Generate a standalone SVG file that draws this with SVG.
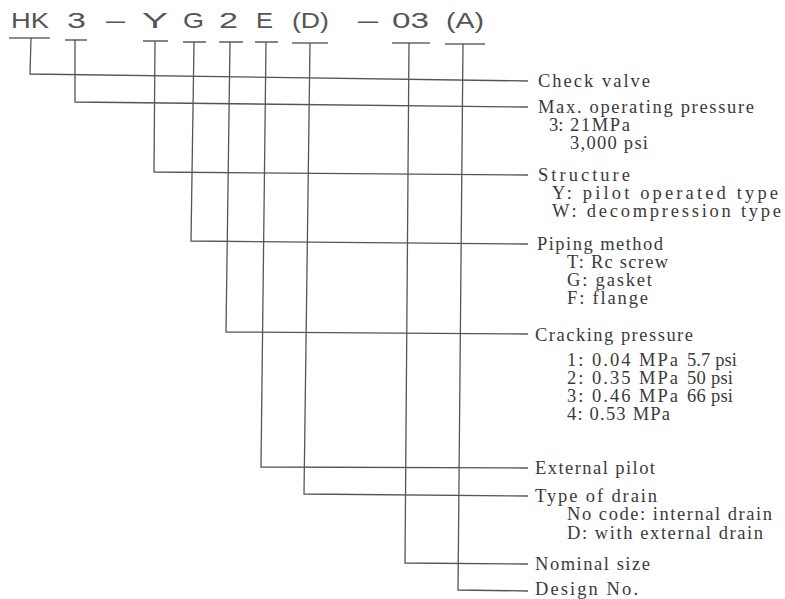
<svg xmlns="http://www.w3.org/2000/svg" width="785" height="599" viewBox="0 0 785 599">
<style>
.code{font-family:"Liberation Sans",Arial,sans-serif;font-size:22px;fill:#555}
.lbl{font-family:"Liberation Serif","Times New Roman",serif;font-size:18.5px;fill:#3a3a3a}
.ln{stroke:#555;stroke-width:1.3;fill:none}
.ul{stroke:#666;stroke-width:1.6;fill:none}
</style>
<rect width="785" height="599" fill="#fff"/>
<g id="code">
<text class="code" x="11" y="28" textLength="38" lengthAdjust="spacingAndGlyphs">HK</text>
<text class="code" x="67" y="28" textLength="19" lengthAdjust="spacingAndGlyphs">3</text>
<text class="code" x="106" y="28" textLength="19" lengthAdjust="spacingAndGlyphs">—</text>
<text class="code" x="142" y="28" textLength="26" lengthAdjust="spacingAndGlyphs">Y</text>
<text class="code" x="183" y="28" textLength="21" lengthAdjust="spacingAndGlyphs">G</text>
<text class="code" x="219" y="28" textLength="19" lengthAdjust="spacingAndGlyphs">2</text>
<text class="code" x="256" y="28" textLength="17" lengthAdjust="spacingAndGlyphs">E</text>
<text class="code" x="292" y="28" textLength="37" lengthAdjust="spacingAndGlyphs">(D)</text>
<text class="code" x="358" y="28" textLength="20" lengthAdjust="spacingAndGlyphs">—</text>
<text class="code" x="392" y="28" textLength="37" lengthAdjust="spacingAndGlyphs">03</text>
<text class="code" x="446" y="28" textLength="38" lengthAdjust="spacingAndGlyphs">(A)</text>
</g>
<g id="underlines">
<line class="ul" x1="9" y1="38" x2="50" y2="38"/>
<line class="ul" x1="65" y1="40" x2="87" y2="40"/>
<line class="ul" x1="143" y1="41" x2="168" y2="41"/>
<line class="ul" x1="183" y1="42" x2="206" y2="42"/>
<line class="ul" x1="219" y1="42" x2="243" y2="42"/>
<line class="ul" x1="255" y1="42" x2="278" y2="42"/>
<line class="ul" x1="292" y1="43" x2="328" y2="43"/>
<line class="ul" x1="392" y1="43" x2="430" y2="43"/>
<line class="ul" x1="445" y1="44" x2="485" y2="44"/>
</g>
<g id="connectors">
<polyline class="ln" points="31,38 30,74 528,81"/>
<polyline class="ln" points="75,40 75,102 528,107"/>
<polyline class="ln" points="155,41 154,172 528,175"/>
<polyline class="ln" points="194,42 191,241 528,244"/>
<polyline class="ln" points="230,42 226,332 528,334"/>
<polyline class="ln" points="266,42 261,467 528,468"/>
<polyline class="ln" points="310,43 304,494 528,496"/>
<polyline class="ln" points="409,43 405,563 528,564"/>
<polyline class="ln" points="463,44 458,590 528,591"/>
</g>
<g id="check-valve">
<text class="lbl" x="538" y="87" textLength="112" lengthAdjust="spacing">Check valve</text>
</g>
<g id="max-pressure">
<text class="lbl" x="538" y="113" textLength="216" lengthAdjust="spacing">Max. operating pressure</text>
<text class="lbl" x="549" y="131">3:</text>
<text class="lbl" x="570" y="131" textLength="60" lengthAdjust="spacing">21MPa</text>
<text class="lbl" x="570" y="149" textLength="78" lengthAdjust="spacing">3,000 psi</text>
</g>
<g id="structure">
<text class="lbl" x="538" y="181" textLength="92" lengthAdjust="spacing">Structure</text>
<text class="lbl" x="552" y="199" textLength="226" lengthAdjust="spacing">Y: pilot operated type</text>
<text class="lbl" x="552" y="217" textLength="229" lengthAdjust="spacing">W: decompression type</text>
</g>
<g id="piping">
<text class="lbl" x="537" y="250" textLength="126" lengthAdjust="spacing">Piping method</text>
<text class="lbl" x="567" y="268" textLength="101" lengthAdjust="spacing">T: Rc screw</text>
<text class="lbl" x="567" y="286" textLength="85" lengthAdjust="spacing">G: gasket</text>
<text class="lbl" x="567" y="304" textLength="81" lengthAdjust="spacing">F: flange</text>
</g>
<g id="cracking">
<text class="lbl" x="535" y="341" textLength="158" lengthAdjust="spacing">Cracking pressure</text>
<text class="lbl" x="567" y="366" textLength="111" lengthAdjust="spacing">1: 0.04 MPa</text>
<text class="lbl" x="687" y="366" textLength="50" lengthAdjust="spacing">5.7 psi</text>
<text class="lbl" x="567" y="384" textLength="111" lengthAdjust="spacing">2: 0.35 MPa</text>
<text class="lbl" x="687" y="384" textLength="46" lengthAdjust="spacing">50 psi</text>
<text class="lbl" x="567" y="402" textLength="111" lengthAdjust="spacing">3: 0.46 MPa</text>
<text class="lbl" x="687" y="402" textLength="46" lengthAdjust="spacing">66 psi</text>
<text class="lbl" x="567" y="420" textLength="103" lengthAdjust="spacing">4: 0.53 MPa</text>
</g>
<g id="external-pilot">
<text class="lbl" x="535" y="474" textLength="120" lengthAdjust="spacing">External pilot</text>
</g>
<g id="drain">
<text class="lbl" x="535" y="502" textLength="122" lengthAdjust="spacing">Type of drain</text>
<text class="lbl" x="567" y="520" textLength="205" lengthAdjust="spacing">No code: internal drain</text>
<text class="lbl" x="567" y="539" textLength="196" lengthAdjust="spacing">D: with external drain</text>
</g>
<g id="nominal-size">
<text class="lbl" x="535" y="570" textLength="115" lengthAdjust="spacing">Nominal size</text>
</g>
<g id="design-no">
<text class="lbl" x="535" y="595" textLength="103" lengthAdjust="spacing">Design No.</text>
</g>
</svg>
